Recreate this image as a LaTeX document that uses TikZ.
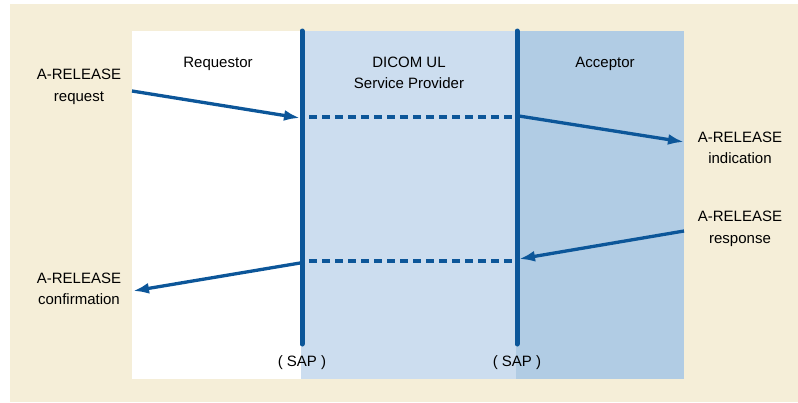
\documentclass[tikz,border=0pt]{standalone}
\usepackage{fontspec}
\setmainfont{Liberation Sans}
\usetikzlibrary{arrows.meta}
\definecolor{bgbeige}{HTML}{F5EED8}
\definecolor{provblue}{HTML}{CCDDEF}
\definecolor{accblue}{HTML}{B1CCE4}
\definecolor{linkblue}{HTML}{0C5699}
\tikzset{
  lbl/.style={align=center, inner sep=0pt, font=\fontsize{15}{21.5}\selectfont},
  sapline/.style={draw=linkblue, line width=5pt, line cap=round},
  primline/.style={draw=linkblue, line width=3.3pt, ->},
  peerline/.style={draw=linkblue, line width=3.3pt, dash pattern=on 8pt off 5pt},
}
\begin{document}
\begin{tikzpicture}[x=1pt,y=-1pt,>={Latex[length=16pt,width=11pt]}]
%% background and panels
\useasboundingbox (0,0) rectangle (798,402);
\fill[white] (0,0) rectangle (798,402);
\fill[bgbeige] (10,4) rectangle (798,402);
\fill[white] (132,31) rectangle (301,379);
\fill[provblue] (301,31) rectangle (516,379);
\fill[accblue] (516,31) rectangle (684,379);
%% service access points
\coordinate (sapL top) at (302,31);
\coordinate (sapL bot) at (302,344);
\coordinate (sapR top) at (517,31);
\coordinate (sapR bot) at (517,344);
\draw[sapline] (sapL top) -- (sapL bot);
\draw[sapline] (sapR top) -- (sapR bot);
%% labels
\node[lbl] (req_title) at (218,64) {Requestor};
\node[lbl] (prov_title) at (409,73) {DICOM UL\\Service Provider};
\node[lbl] (acc_title) at (605,64) {Acceptor};
\node[lbl] (rel_req) at (79,87) {A-RELEASE\\request};
\node[lbl] (rel_ind) at (740,148) {A-RELEASE\\indication};
\node[lbl] (rel_rsp) at (740,229) {A-RELEASE\\response};
\node[lbl] (rel_cnf) at (79,289) {A-RELEASE\\confirmation};
\node[lbl] (sapL_lbl) at (302,363) {( SAP )};
\node[lbl] (sapR_lbl) at (517,363) {( SAP )};
%% primitives
\coordinate (req_out) at (132,91);
\coordinate (req_in) at (300,118);
\coordinate (ind_out) at (519,116);
\coordinate (ind_in) at (684,142);
\coordinate (rsp_out) at (684,231);
\coordinate (rsp_in) at (519,259);
\coordinate (cnf_out) at (300,263);
\coordinate (cnf_in) at (133,291);
\draw[primline] (req_out) -- (req_in);
\draw[primline] (ind_out) -- (ind_in);
\draw[primline] (rsp_out) -- (rsp_in);
\draw[primline] (cnf_out) -- (cnf_in);
%% peer exchange
\coordinate (peer1_a) at (309,117);
\coordinate (peer1_b) at (512,117);
\coordinate (peer2_a) at (309,261);
\coordinate (peer2_b) at (512,261);
\draw[peerline] (peer1_a) -- (peer1_b);
\draw[peerline] (peer2_a) -- (peer2_b);
%
\end{tikzpicture}
\end{document}
